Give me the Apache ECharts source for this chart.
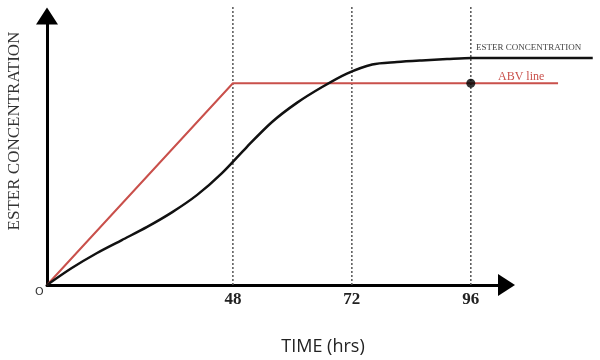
<!DOCTYPE html>
<html>
<head>
<meta charset="utf-8">
<script src="https://cdn.jsdelivr.net/npm/echarts@6/dist/echarts.min.js"></script>
<style>html,body{margin:0;padding:0;background:#fff}#c{width:600px;height:360px}</style>
</head>
<body>
<div id="c"></div>
<script>
// Time axis (hrs); origin of the schematic axis sits at ORIGIN_H
const ORIGIN_H = 10.5;
const X_AXIS_END = 103.2;   // where the drawn time axis (arrow centre) ends
const X_DATA_MAX = 121;     // curves run past the arrow
const Y_MAX = 100;
const esterHours  = [10.5, 15.5, 20.6, 25.6, 30.7, 35.7, 40.8, 45.8, 50.8, 55.9, 60.9, 66.0, 71.0, 76.1, 81.1, 86.1, 91.2, 96.2, 120.6];
const esterValues = [0, 6.3, 11.9, 16.7, 21.6, 27.0, 33.5, 41.6, 51.3, 60.6, 67.7, 73.6, 78.6, 82.0, 82.9, 83.5, 84.0, 84.4, 84.4];
const abvHours  = [10.5, 48, 113.6];
const abvValues = [0, 75, 75];
const guideHours = [48, 72, 96];
const guideTop = 104;
const tickLabels = ['48', '72', '96'];
const dotPoint = [96, 75];

const GRID_LEFT = 47, GRID_RIGHT = 93.5, GRID_TOP = 16, GRID_BOTTOM = 75;
const pxPerH = (600 - GRID_LEFT - GRID_RIGHT) / (X_AXIS_END - ORIGIN_H);
const dataGridRight = 600 - GRID_LEFT - (X_DATA_MAX - ORIGIN_H) * pxPerH;

const chart = echarts.init(document.getElementById('c'), null, {renderer: 'canvas'});
const serif = '"Liberation Serif", "DejaVu Serif", serif';

const guideSeries = guideHours.map(h => ({
  type: 'line', silent: true, clip: false, symbol: 'none', z: 1,
  xAxisIndex: 0, yAxisIndex: 0,
  data: [[h, 0], [h, guideTop]],
  lineStyle: {color: '#555', width: 1.5, type: [2, 2]}
}));

const hiddenAxis = {axisLine: {show: false}, axisTick: {show: false}, axisLabel: {show: false}, splitLine: {show: false}};
const arrowLine = {show: true, lineStyle: {color: '#000', width: 3}, symbol: ['none', 'triangle'], symbolSize: [22, 17]};

chart.setOption({
  animation: false,
  grid: [
    {left: GRID_LEFT, right: dataGridRight, top: GRID_TOP, bottom: GRID_BOTTOM},
    {left: GRID_LEFT, right: GRID_RIGHT, top: GRID_TOP, bottom: GRID_BOTTOM}
  ],
  xAxis: [
    Object.assign({type: 'value', gridIndex: 0, min: ORIGIN_H, max: X_DATA_MAX}, hiddenAxis),
    {
      type: 'value', gridIndex: 1, min: ORIGIN_H, max: X_AXIS_END,
      axisLine: arrowLine,
      axisTick: {show: false},
      splitLine: {show: false},
      axisLabel: {
        customValues: guideHours,
        margin: 6,
        fontFamily: serif, fontWeight: 'bold', fontSize: 17, color: '#222',
        formatter: v => tickLabels[guideHours.indexOf(v)] || ''
      }
    }
  ],
  yAxis: [
    Object.assign({type: 'value', gridIndex: 0, min: 0, max: Y_MAX}, hiddenAxis),
    {
      type: 'value', gridIndex: 1, min: 0, max: Y_MAX,
      axisLine: arrowLine,
      axisTick: {show: false},
      axisLabel: {show: false},
      splitLine: {show: false}
    }
  ],
  series: [
    ...guideSeries,
    {
      name: 'ABV line', type: 'line', clip: false, symbol: 'none', z: 3,
      xAxisIndex: 0, yAxisIndex: 0,
      data: abvHours.map((h, i) => [h, abvValues[i]]),
      lineStyle: {color: '#c9504b', width: 2}
    },
    {
      name: 'ESTER CONCENTRATION', type: 'line', clip: false, symbol: 'none', smooth: 0.3, z: 4,
      xAxisIndex: 0, yAxisIndex: 0,
      data: esterHours.map((h, i) => [h, esterValues[i]]),
      lineStyle: {color: '#111', width: 2.5}
    },
    {
      type: 'scatter', z: 5, symbolSize: 9,
      xAxisIndex: 0, yAxisIndex: 0,
      data: [dotPoint],
      itemStyle: {color: '#000'}
    }
  ],
  graphic: [
    {type: 'text', left: 35, top: 287, style: {text: 'O', font: '11px "DejaVu Sans", sans-serif', fill: '#333'}},
    {type: 'text', x: 15, y: 131, rotation: Math.PI / 2, style: {text: 'ESTER CONCENTRATION', font: '17px ' + serif, fill: '#333', align: 'center', verticalAlign: 'middle'}},
    {type: 'text', x: 323, y: 347, style: {text: 'TIME (hrs)', font: '18px "Open Sans", sans-serif', fill: '#222', align: 'center', verticalAlign: 'middle'}},
    {type: 'text', x: 476, y: 48, style: {text: 'ESTER CONCENTRATION', font: '9px ' + serif, fill: '#444', align: 'left', verticalAlign: 'middle'}},
    {type: 'text', x: 498, y: 77, style: {text: 'ABV line', font: '12px ' + serif, fill: '#c9504b', align: 'left', verticalAlign: 'middle'}}
  ]
});
</script>
</body>
</html>
